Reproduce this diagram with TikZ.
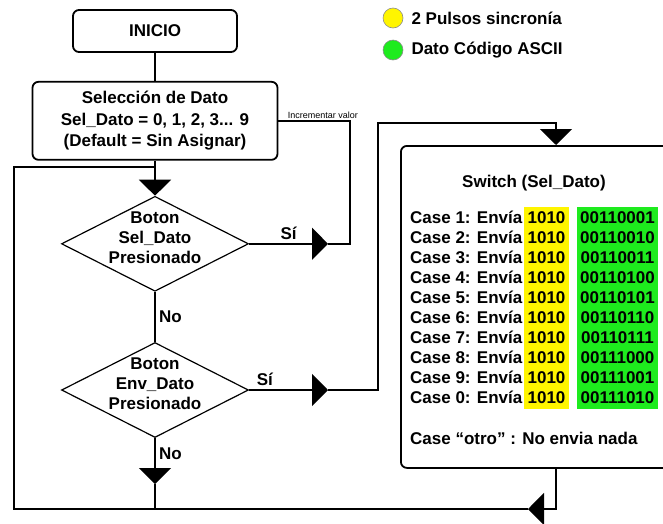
\documentclass[tikz,border=0pt]{standalone}
\usepackage{fontspec}
\setmainfont{Liberation Sans}
\usetikzlibrary{arrows.meta, positioning, shapes.geometric}

\definecolor{pulso}{RGB}{255,245,0}
\definecolor{ascii}{RGB}{30,235,30}

\begin{document}
\begin{tikzpicture}[
    x=1pt, y=-1pt,
    font=\bfseries\fontsize{17}{20}\selectfont,
    node distance=30pt and 30pt,
    caja/.style={rectangle, rounded corners=6pt, draw, line width=1.8pt, align=center},
    rombo/.style={diamond, draw, line width=1.2pt, align=center, minimum width=187pt, minimum height=95pt, inner sep=-20pt, text depth=12pt},
    columna/.style={rectangle, align=center, inner sep=0pt, minimum height=202pt},
    leyenda/.style={circle, draw=black!45, line width=0.6pt, minimum size=20pt, inner sep=0pt},
    linea/.style={line width=1.6pt},
    flecha/.style={line width=1.6pt, -{Triangle[length=16pt, width=32pt]}}
]
\useasboundingbox (0,0) rectangle (663,523);
\clip (0,0) rectangle (663,523);

% Nodes
\node[caja, minimum width=164pt, minimum height=42pt] (inicio) at (155,31) {INICIO};
\node[caja, minimum width=245pt, minimum height=78pt, below=28pt of inicio, font=\bfseries\fontsize{17}{21.5}\selectfont] (sel)
    {Selección de Dato\\Sel\_Dato = 0, 1, 2, 3... 9\\(Default = Sin Asignar)};
\node[rombo, below=35pt of sel] (d1) {Boton\\Sel\_Dato\\Presionado};
\node[rombo, below=50pt of d1] (d2) {Boton\\Env\_Dato\\Presionado};

% Switch
\node[caja, minimum width=272pt, minimum height=322pt, anchor=north west] (sw) at (400,145) {};
\node[anchor=base] (tit) at (534,187) {Switch (Sel\_Dato)};
\node[anchor=north west, inner sep=0pt, align=left] (casos) at (410,210.5)
    {Case 1: Envía\\Case 2: Envía\\Case 3: Envía\\Case 4: Envía\\Case 5: Envía\\Case 6: Envía\\Case 7: Envía\\Case 8: Envía\\Case 9: Envía\\Case 0: Envía};
\node[columna, fill=pulso, minimum width=45pt] (pul) at (546.5,308)
    {1010\\1010\\1010\\1010\\1010\\1010\\1010\\1010\\1010\\1010};
\node[columna, fill=ascii, minimum width=81pt] (asc) at (617.5,308)
    {00110001\\00110010\\00110011\\00110100\\00110101\\00110110\\00110111\\00111000\\00111001\\00111010};
\node[anchor=base west, inner sep=0pt] (otro) at (410,444) {Case “otro” : No envia nada};

% Legend
\node[leyenda, fill=pulso] (cy) at (393,18) {};
\node[right=8pt of cy, inner sep=0pt] (ty) {2 Pulsos sincronía};
\node[leyenda, fill=ascii] (cg) at (393,50) {};
\node[right=8pt of cg, inner sep=0pt] (tg) {Dato Código ASCII};

% Bends
\coordinate (s1) at (328,0);
\coordinate (k1) at (350,0);
\coordinate (k2) at (378,123);
\coordinate (k3) at (556,123);
\coordinate (k4) at (14,509);
\coordinate (k5) at (556,509);
\coordinate (k6) at (0,167);
\coordinate (b1) at (528,509);
\coordinate (b2) at (0,484);

% Arrows
\draw[linea] (inicio) -- (sel);
\draw[flecha] (sel) -- (d1);
\draw[linea] (d1) -- node[right] {No} (d2);
\draw[flecha] (d1.east) -- node[above] {Sí} (d1.east -| s1);
\draw[linea] (d1.east -| s1) -- (d1.east -| k1) |- node[above, pos=0.69, inner sep=1pt, font=\mdseries\fontsize{9}{10}\selectfont] {Incrementar valor} (sel.east);
\draw[flecha] (d2.east) -- node[above, pos=0.2] {Sí} (d2.east -| s1);
\draw[flecha] (d2.east -| s1) -| (k2) -- (k3) -- (k3 |- sw.north);
\draw[flecha] (d2) -- node[right, pos=0.35] {No} (d2.south |- b2);
\draw[linea] (d2.south |- b2) -- (d2.south |- k4);
\draw[flecha] (sw.south -| k5) -- (k5) -- (b1);
\draw[linea] (b1) -- (k4) |- (sel.south |- k6);

\end{tikzpicture}
\end{document}
